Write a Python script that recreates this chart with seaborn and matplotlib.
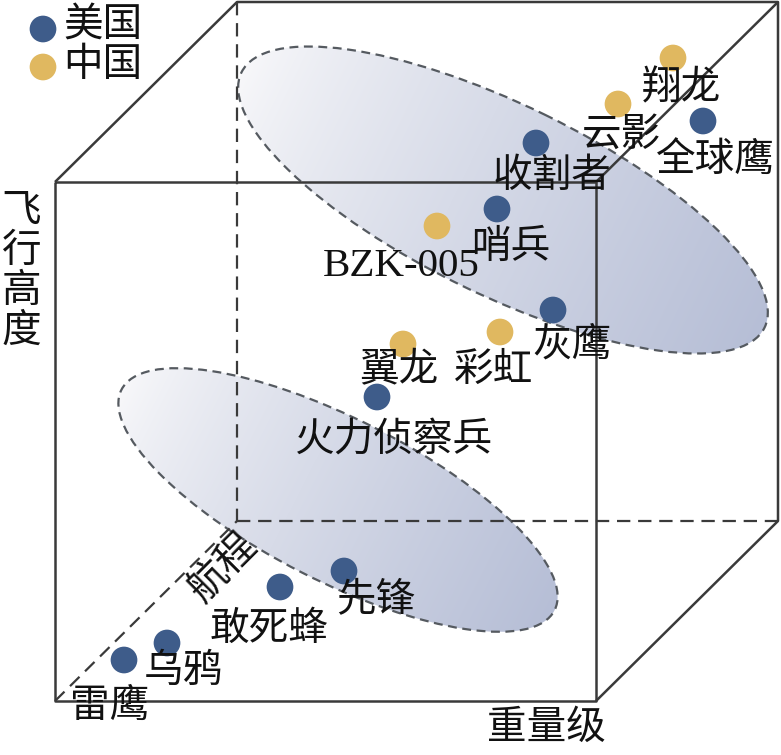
import numpy as np
import pandas as pd
import matplotlib
matplotlib.use("Agg")
import matplotlib.pyplot as plt
from matplotlib.patches import Ellipse
import seaborn as sns

# ------------------------------------
# Data (pixel space)
# ------------------------------------

names = ["全球鹰", "收割者", "哨兵", "灰鹰", "火力侦察兵", "先锋", "敢死蜂", "乌鸦", "雷鹰",
         "翔龙", "云影", "BZK-005", "彩虹", "翼龙"]
country = ["美国"] * 9 + ["中国"] * 5
pos_x = [703, 536, 497, 553, 377, 344, 280, 167, 124, 673, 618, 437, 500, 403]
pos_y = [121, 143, 209, 310, 397, 571, 587, 643, 660, 58, 104, 226, 332, 344]

# label offsets from the dot
label_dx = [12, 16, 14, 19, 17, 32, -11, 16, -14, 8, 3, -36, -6, -4]
label_dy = [39, 33, 38, 35, 43, 29, 42, 28, 46, 30, 31, 41, 38, 26]

palette = {"美国": "#3e5c8a", "中国": "#e0b860"}

df = pd.DataFrame({"name": names, "country": country, "x": pos_x, "y": pos_y})

W, H = 781, 755

sns.set_theme(style="white")
plt.rcParams["font.family"] = ["Noto Sans CJK SC", "DejaVu Sans"]

fig = plt.figure(figsize=(W / 100, H / 100), dpi=100)
ax = fig.add_axes([0, 0, 1, 1])
ax.set_xlim(0, W)
ax.set_ylim(H, 0)
ax.axis("off")

# ------------------------------------
# Shaded ellipses with gradient
# ------------------------------------

def shaded_ellipse(cx, cy, a, b, angle):
    e = Ellipse((cx, cy), 2 * a, 2 * b, angle=angle, facecolor="none",
                edgecolor="#555a60", lw=1.6, ls=(0, (4, 2.5)), zorder=3)
    ax.add_patch(e)
    yy, xx = np.mgrid[0:H, 0:W]
    t = np.deg2rad(angle)
    u = ((xx - cx) * np.cos(t) + (yy - cy) * np.sin(t)) / a
    u = np.clip((u + 1) / 2, 0, 1) ** 0.8
    c0 = np.array([248, 248, 250]) / 255
    c1 = np.array([182, 190, 214]) / 255
    img = c0 + (c1 - c0) * u[..., None]
    im = ax.imshow(img, extent=(0, W, H, 0), zorder=1, interpolation="bilinear")
    clip = Ellipse((cx, cy), 2 * a, 2 * b, angle=angle, transform=ax.transData)
    im.set_clip_path(clip)

shaded_ellipse(503, 200, 291, 95, 26)
shaded_ellipse(338, 500, 243, 81, 27)
ax.set_xlim(0, W)
ax.set_ylim(H, 0)

# ------------------------------------
# Cube
# ------------------------------------

edge = dict(color="#3a3a3a", lw=1.8, zorder=4, solid_capstyle="butt")
dash = dict(color="#3a3a3a", lw=1.6, zorder=4, ls=(0, (6, 3.5)))

fx0, fx1, fy0, fy1 = 55, 596, 182, 701
bx0, bx1, by0, by1 = 237, 778, 2, 521

ax.plot([fx0, fx1, fx1, fx0, fx0], [fy0, fy0, fy1, fy1, fy0], **edge)
ax.plot([fx0, bx0, bx1, bx1, fx1], [fy0, by0, by0, by1, fy1], **edge)
ax.plot([fx1, bx1], [fy0, by0], **edge)
ax.plot([bx0, bx0], [by0, by1], **dash)
ax.plot([bx0, bx1], [by1, by1], **dash)
ax.plot([fx0, bx0], [fy1, by1], **dash)

# ------------------------------------
# Points
# ------------------------------------

msize = 370

sns.scatterplot(data=df, x="x", y="y", hue="country", palette=palette,
                s=msize, edgecolor="none", ax=ax, zorder=5, legend=False)

fs = 28.5
for n, x, y, dx, dy in zip(names, pos_x, pos_y, label_dx, label_dy):
    fam = ["Liberation Serif"] if n == "BZK-005" else ["Noto Sans CJK SC", "DejaVu Sans"]
    size = fs + 1 if n == "BZK-005" else fs
    ax.text(x + dx, y + dy, n, fontsize=size, family=fam, ha="center", va="center",
            color="#111111", zorder=6)

# legend
ax.scatter([43], [29], s=msize, color=palette["美国"], edgecolor="none", zorder=5)
ax.scatter([43], [67], s=msize, color=palette["中国"], edgecolor="none", zorder=5)
ax.text(103, 25, "美国", fontsize=fs, ha="center", va="center", color="#111111")
ax.text(103, 65, "中国", fontsize=fs, ha="center", va="center", color="#111111")

# axis names
ax.text(21, 271, "飞\n行\n高\n度", fontsize=fs, ha="center", va="center",
        linespacing=1.0, color="#111111")
ax.text(546, 728, "重量级", fontsize=fs, ha="center", va="center", color="#111111")
ax.text(223, 568, "航程", fontsize=fs, ha="center", va="center", rotation=45,
        color="#111111")

ax.set_xlim(0, W)
ax.set_ylim(H, 0)

plt.savefig("out.png", dpi=100)
plt.close()
